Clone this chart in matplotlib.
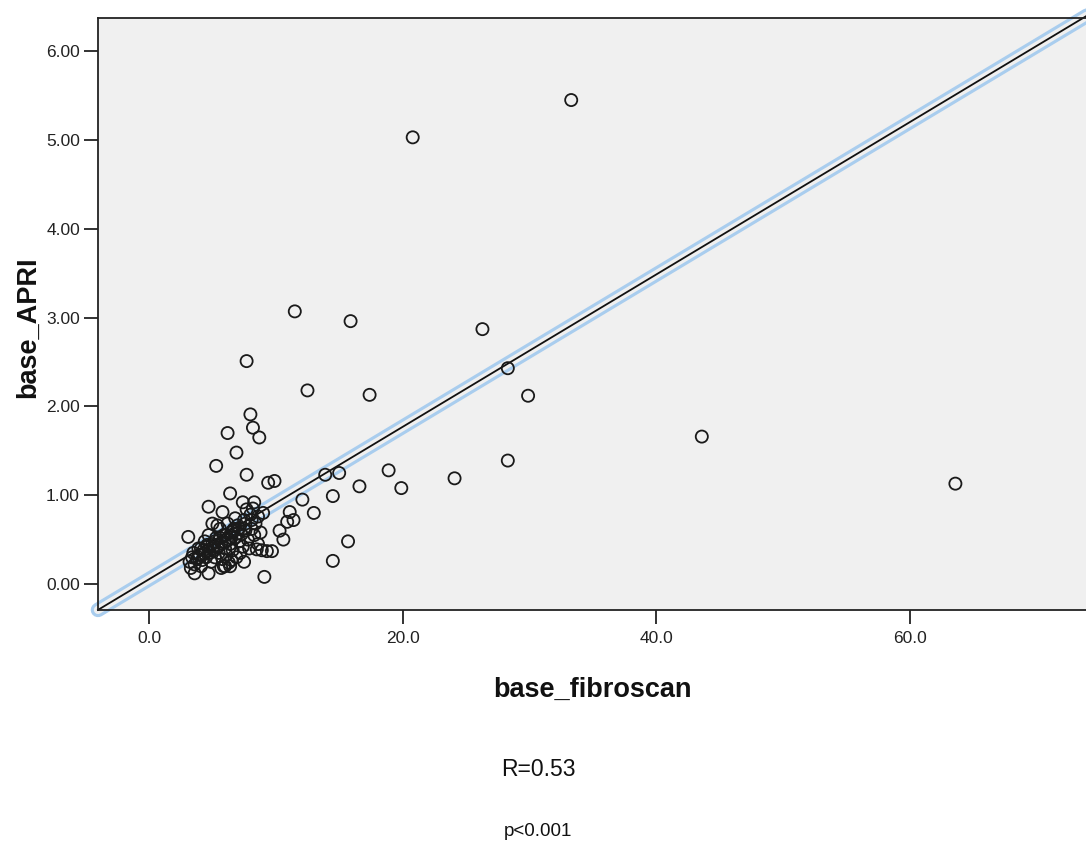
import matplotlib

matplotlib.use("Agg")
import matplotlib.pyplot as plt
import numpy as np

plt.rcParams["font.family"] = ["Liberation Sans", "DejaVu Sans"]

# values (base_fibroscan, base_APRI)
fibroscan = [
    33.3, 20.8, 11.5, 15.9, 26.3, 28.3, 7.7, 12.5, 17.4, 29.9,
    43.6, 63.6, 28.3, 24.1, 18.9, 19.9, 15.0, 13.9, 16.6, 14.5,
    15.7, 14.5, 13.0, 12.1,
    6.2, 8.2, 8.7, 8.0, 6.9, 5.3, 7.7, 9.9, 9.4, 6.4,
    4.7, 5.8, 7.4, 8.3, 3.1, 11.1, 11.4, 10.9, 10.6, 8.9,
    9.3, 9.7, 8.5, 7.5, 9.1, 4.7, 3.6, 5.9, 6.4, 6.5,
    3.2, 3.4, 3.6, 3.8, 4.0, 4.2, 4.3, 4.5, 4.6, 4.8,
    4.9, 5.0, 5.1, 5.2, 5.3, 5.4, 5.5, 5.6, 5.7, 5.8,
    5.9, 6.0, 6.1, 6.2, 6.3, 6.4, 6.5, 6.6, 6.7, 6.8,
    6.9, 7.0, 7.1, 7.3, 7.4, 7.5, 7.6, 7.8, 8.0, 8.1,
    8.3, 8.4, 8.6, 8.8, 5.0, 4.4, 6.0, 6.3, 5.7, 7.2,
    7.9, 8.2, 7.7, 6.8, 5.4, 4.7, 3.9, 3.3, 4.1, 10.3,
    3.5, 4.1, 4.6, 5.2, 5.6, 6.1, 6.6, 7.1, 7.6, 8.1,
    8.6, 9.0, 3.9, 4.4, 5.0, 5.5, 6.0, 6.5, 7.0, 7.5,
]
apri = [
    5.45, 5.03, 3.07, 2.96, 2.87, 2.43, 2.51, 2.18, 2.13, 2.12,
    1.66, 1.13, 1.39, 1.19, 1.28, 1.08, 1.25, 1.23, 1.10, 0.99,
    0.48, 0.26, 0.80, 0.95,
    1.70, 1.76, 1.65, 1.91, 1.48, 1.33, 1.23, 1.16, 1.14, 1.02,
    0.87, 0.81, 0.92, 0.92, 0.53, 0.81, 0.72, 0.70, 0.50, 0.38,
    0.37, 0.37, 0.39, 0.25, 0.08, 0.12, 0.12, 0.20, 0.20, 0.27,
    0.25, 0.30, 0.22, 0.28, 0.33, 0.27, 0.38, 0.30, 0.42, 0.35,
    0.25, 0.45, 0.38, 0.30, 0.52, 0.41, 0.35, 0.62, 0.46, 0.28,
    0.55, 0.40, 0.33, 0.68, 0.50, 0.45, 0.58, 0.38, 0.62, 0.52,
    0.30, 0.66, 0.48, 0.56, 0.42, 0.72, 0.60, 0.50, 0.78, 0.62,
    0.55, 0.68, 0.45, 0.58, 0.68, 0.48, 0.20, 0.24, 0.18, 0.35,
    0.40, 0.85, 0.84, 0.74, 0.66, 0.55, 0.40, 0.18, 0.20, 0.60,
    0.35, 0.40, 0.44, 0.48, 0.52, 0.55, 0.60, 0.63, 0.68, 0.72,
    0.76, 0.80, 0.30, 0.34, 0.40, 0.43, 0.47, 0.52, 0.57, 0.62,
]

# fit line drawn in the reference
fit_intercept = 0.053
fit_slope = 0.0858

x_ticks = [0, 20, 40, 60]
y_ticks = [0, 1, 2, 3, 4, 5, 6]

fig = plt.figure(figsize=(10.86, 8.44), dpi=100)
ax = fig.add_axes([98 / 1086, 1 - 610 / 844, 1 - 98 / 1086, (610 - 18) / 844])
ax.set_facecolor("#f0f0f0")

xlim = (-4.02, 73.9)
ylim = (-0.293, 6.374)
ax.set_xlim(*xlim)
ax.set_ylim(*ylim)

line_x = np.array([xlim[0], 80.0])
line_y = fit_intercept + fit_slope * line_x
ax.plot(line_x, line_y, color="#a9cdee", lw=10.5, solid_capstyle="round", clip_on=False, zorder=2)
ax.plot(line_x, line_y, color="#f0f0f0", lw=6.0, solid_capstyle="round", clip_on=False, zorder=2.1)
ax.plot(line_x, line_y, color="#111111", lw=1.3, clip_on=False, zorder=2.2)

ax.scatter(fibroscan, apri, s=76, facecolors="none", edgecolors="#1a1a1a", linewidths=1.3, zorder=3)

for side in ("left", "bottom", "top"):
    ax.spines[side].set_linewidth(1.3)
    ax.spines[side].set_color("#222222")
ax.spines["right"].set_visible(False)

ax.set_xticks(x_ticks)
ax.set_xticklabels(["{:.1f}".format(v) for v in x_ticks])
ax.set_yticks(y_ticks)
ax.set_yticklabels(["{:.2f}".format(v) for v in y_ticks])
ax.tick_params(direction="out", length=10, width=1.3, color="#222222", labelsize=12.5,
               labelcolor="#222222", pad=5)
ax.tick_params(axis="y", pad=3)

fig.text(592 / 1086, 1 - 690 / 844, "base_fibroscan", ha="center", va="center",
         fontsize=19.5, fontweight="bold", color="#111111")
fig.text(28 / 1086, 1 - 327 / 844, "base_APRI", ha="center", va="center", rotation=90,
         fontsize=19.5, fontweight="bold", color="#111111")
fig.text(538 / 1086, 1 - 770 / 844, "R=0.53", ha="center", va="center", fontsize=16.5, color="#111111")
fig.text(538 / 1086, 1 - 832 / 844, "p<0.001", ha="center", va="center", fontsize=13.5, color="#111111")

fig.savefig("out.png", dpi=100, facecolor="white")
